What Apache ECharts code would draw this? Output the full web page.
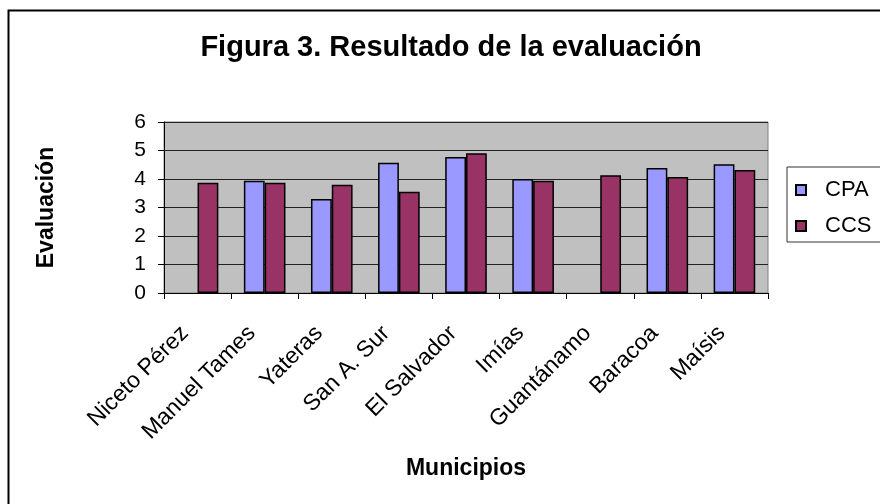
<!DOCTYPE html>
<html>
<head>
<meta charset="utf-8">
<script src="https://cdn.jsdelivr.net/npm/echarts@6/dist/echarts.min.js"></script>
<style>
  html, body { margin: 0; padding: 0; background: #fff; }
  #main { width: 880px; height: 504px; }
</style>
</head>
<body>
<div id="main"></div>
<script>
  const municipios = [
    "Niceto Pérez", "Manuel Tames", "Yateras", "San A. Sur", "El Salvador",
    "Imías", "Guantánamo", "Baracoa", "Maísis"
  ];
  const cpa = [null, 3.94, 3.3, 4.57, 4.77, 4.0, null, 4.39, 4.52];
  const ccs = [3.87, 3.87, 3.8, 3.55, 4.9, 3.94, 4.13, 4.07, 4.32];
  const yTicks = { min: 0, max: 6, interval: 1 };

  const font = "Liberation Sans, Arial, sans-serif";
  const chart = echarts.init(document.getElementById("main"));

  chart.setOption({
    animation: false,
    backgroundColor: "#fff",
    textStyle: { fontFamily: font, color: "#000" },
    graphic: [
      {
        type: "rect",
        shape: { x: 8.5, y: 10.5, width: 900, height: 600 },
        style: { fill: "none", stroke: "#000", lineWidth: 2 },
        silent: true,
      },
    ],
    title: {
      text: "Figura 3. Resultado de la evaluación",
      left: 451,
      textAlign: "center",
      top: 33,
      padding: 0,
      textStyle: { fontFamily: font, fontSize: 29, fontWeight: "bold", color: "#000" },
    },
    legend: {
      orient: "vertical",
      left: 787,
      top: 167,
      padding: [12, 20, 5, 8],
      itemGap: 14,
      itemWidth: 10,
      itemHeight: 10,
      icon: "rect",
      borderColor: "#333",
      borderWidth: 1,
      textStyle: { fontFamily: font, fontSize: 22, color: "#000", padding: [0, 0, 0, 14] },
      data: ["CPA", "CCS"],
    },
    grid: {
      left: 164,
      right: 112,
      top: 122,
      bottom: 211,
      show: true,
      backgroundColor: "#C0C0C0",
      borderColor: "#808080",
      borderWidth: 1,
    },
    xAxis: {
      type: "category",
      data: municipios,
      name: "Municipios",
      nameLocation: "middle",
      nameGap: 164,
      nameTextStyle: { fontFamily: font, fontSize: 23, fontWeight: "bold", color: "#000" },
      axisLine: { lineStyle: { color: "#000", width: 1 } },
      axisTick: { show: true, length: 6, lineStyle: { color: "#000" } },
      axisLabel: {
        rotate: 45,
        interval: 0,
        margin: 24,
        padding: [0, 18, 0, 0],
        fontFamily: font,
        fontSize: 23,
        color: "#000",
      },
    },
    yAxis: {
      type: "value",
      min: yTicks.min,
      max: yTicks.max,
      interval: yTicks.interval,
      name: "Evaluación",
      nameLocation: "middle",
      nameGap: 106,
      nameTextStyle: { fontFamily: font, fontSize: 23, fontWeight: "bold", color: "#000" },
      axisLine: { show: true, lineStyle: { color: "#000", width: 1 } },
      axisTick: { show: true, length: 6, lineStyle: { color: "#000" } },
      axisLabel: { margin: 18, fontFamily: font, fontSize: 21, color: "#000" },
      splitLine: { show: true, lineStyle: { color: "#222", width: 1 } },
    },
    series: [
      {
        name: "CPA",
        type: "bar",
        data: cpa,
        barGap: "0%",
        barCategoryGap: "38%",
        itemStyle: { color: "#9999FF", borderColor: "#000", borderWidth: 1.5 },
      },
      {
        name: "CCS",
        type: "bar",
        data: ccs,
        barGap: "0%",
        barCategoryGap: "38%",
        itemStyle: { color: "#993366", borderColor: "#000", borderWidth: 1.5 },
      },
    ],
  });
</script>
</body>
</html>
